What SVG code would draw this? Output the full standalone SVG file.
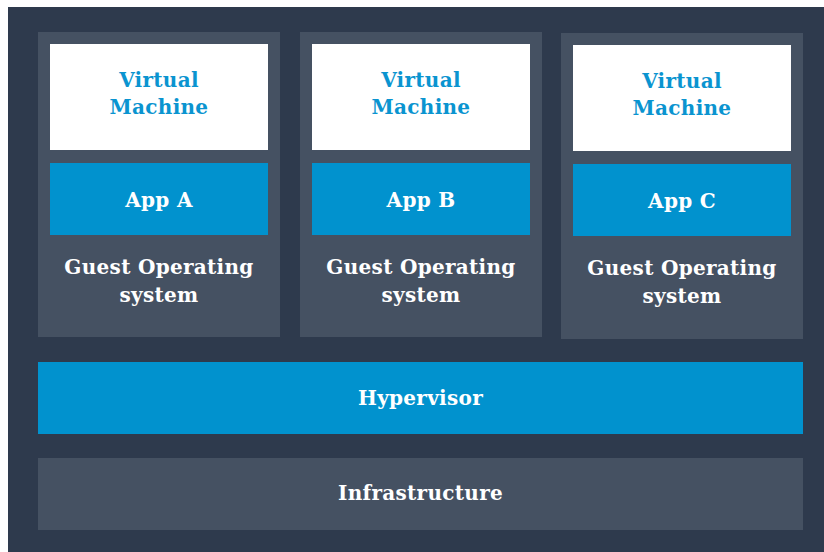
<svg xmlns="http://www.w3.org/2000/svg" width="824" height="552" viewBox="0 0 824 552">
<style>
.bg{fill:#2e3a4d}
.col{fill:#455162}
.vm{fill:#ffffff}
.blue{fill:#0192ce}
text{font-family:"DejaVu Serif","Liberation Serif",serif;font-weight:bold;font-size:20px;letter-spacing:0.3px;text-anchor:middle}
.tb{fill:#0a94d0}
.tw{fill:#ffffff}
</style>
<rect x="0" y="0" width="824" height="552" fill="#ffffff"/>
<rect class="bg" x="8" y="7" width="816" height="545"/>
<g id="vm-a">
<rect class="col" x="38" y="32" width="242" height="305"/>
<rect class="vm" x="50" y="44" width="218" height="106"/>
<text class="tb" x="159" y="86.5">Virtual</text>
<text class="tb" x="159" y="114">Machine</text>
<rect class="blue" x="50" y="163" width="218" height="72"/>
<text class="tw" x="159" y="206.5">App A</text>
<text class="tw" x="159" y="274">Guest Operating</text>
<text class="tw" x="159" y="301.5">system</text>
</g>
<g id="vm-b">
<rect class="col" x="300" y="32" width="242" height="305"/>
<rect class="vm" x="312" y="44" width="218" height="106"/>
<text class="tb" x="421" y="86.5">Virtual</text>
<text class="tb" x="421" y="114">Machine</text>
<rect class="blue" x="312" y="163" width="218" height="72"/>
<text class="tw" x="421" y="206.5">App B</text>
<text class="tw" x="421" y="274">Guest Operating</text>
<text class="tw" x="421" y="301.5">system</text>
</g>
<g id="vm-c">
<rect class="col" x="561" y="33" width="242" height="306"/>
<rect class="vm" x="573" y="45" width="218" height="106"/>
<text class="tb" x="682" y="87.5">Virtual</text>
<text class="tb" x="682" y="115">Machine</text>
<rect class="blue" x="573" y="164" width="218" height="72"/>
<text class="tw" x="682" y="207.5">App C</text>
<text class="tw" x="682" y="275">Guest Operating</text>
<text class="tw" x="682" y="302.5">system</text>
</g>
<g id="hypervisor">
<rect class="blue" x="38" y="362" width="765" height="72"/>
<text class="tw" x="420.5" y="405">Hypervisor</text>
</g>
<g id="infrastructure">
<rect class="col" x="38" y="458" width="765" height="72"/>
<text class="tw" x="420.5" y="500">Infrastructure</text>
</g>
<g id="connectors"></g>
</svg>
